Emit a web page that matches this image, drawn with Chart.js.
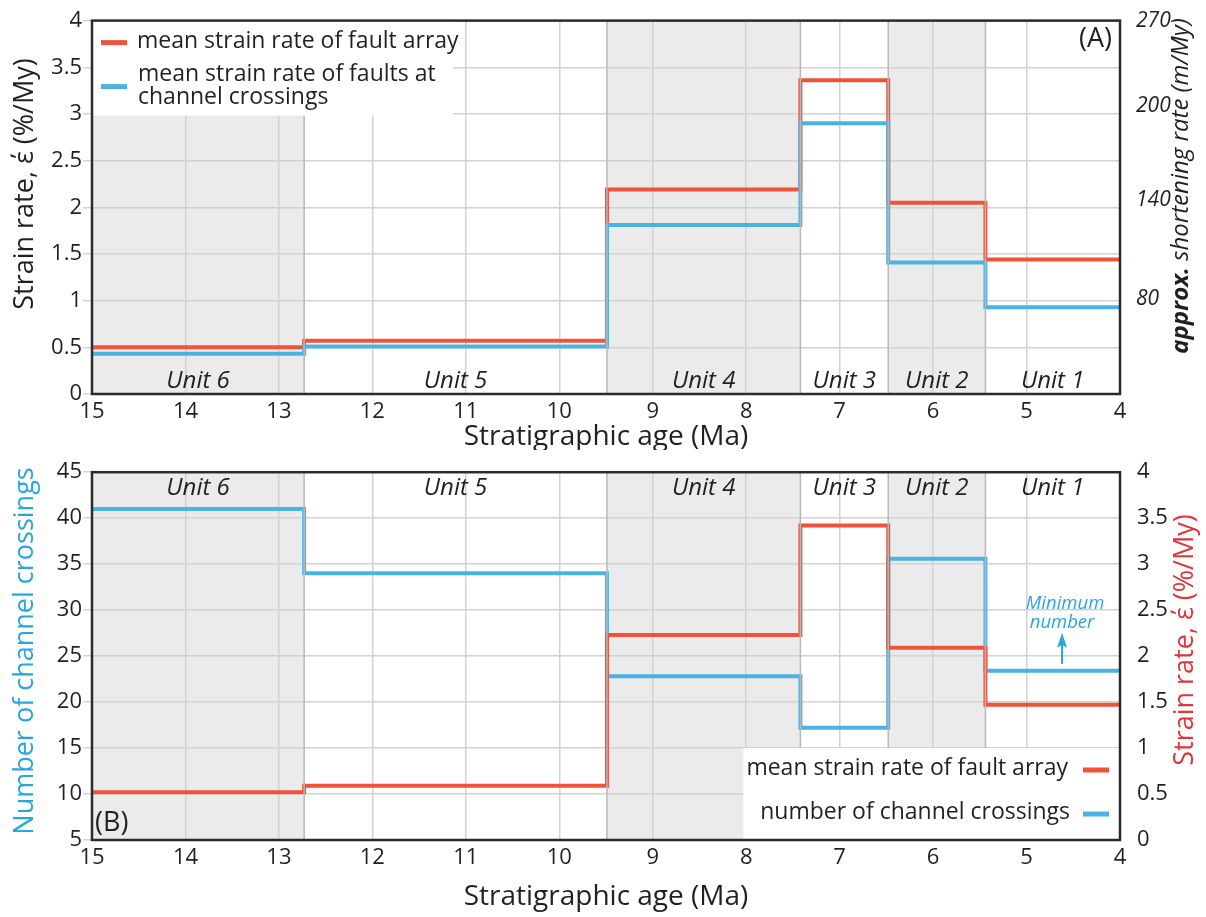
<!DOCTYPE html>
<html>
<head>
<meta charset="utf-8">
<script src="https://cdn.jsdelivr.net/npm/chart.js@4.4.0/dist/chart.umd.min.js"></script>
<style>
  html, body { margin: 0; padding: 0; background: #fff; }
  #wrap { position: relative; width: 1206px; height: 917px; }
  canvas { position: absolute; left: 0; }
  #chartA { top: 0; }
  #chartB { top: 450px; }
</style>
</head>
<body>
<div id="wrap">
  <canvas id="chartA" width="1206" height="450"></canvas>
  <canvas id="chartB" width="1206" height="467"></canvas>
</div>
<script>
// ----------------- DATA -----------------
const unitNames = ["Unit 6", "Unit 5", "Unit 4", "Unit 3", "Unit 2", "Unit 1"];
const unitEdges = [15, 12.73, 9.49, 7.42, 6.48, 5.44, 4];   // Ma, oldest -> youngest
const shadedUnits = [0, 2, 4];
const ageTicks = [15, 14, 13, 12, 11, 10, 9, 8, 7, 6, 5, 4];

// panel A
const strainArrayA = [0.5, 0.57, 2.19, 3.36, 2.05, 1.44];
const strainCrossA = [0.43, 0.51, 1.81, 2.9, 1.41, 0.93];
const shorteningLabels = ["270", "200", "140", "80"];
const shorteningAt = [4, 3.08, 2.08, 1.02];   // strain-rate level where each label sits

// panel B
const crossingsB = [41, 34, 22.8, 17.2, 35.6, 23.4];
const strainArrayB = [0.52, 0.59, 2.23, 3.42, 2.09, 1.47];

// ----------------- STYLE -----------------
const FONT = '"Open Sans", "Noto Sans", sans-serif';
const INK = "#231f20";
const GRID = "#d2d2d2";
const SHADE = "#ebebeb";
const RED = "#f0533a";
const BLUE = "#4ab3e4";
const RED_TITLE = "#e0353a";
const BLUE_TITLE = "#2aa6df";

function steps(values) {
  const pts = [];
  values.forEach((v, i) => {
    pts.push({ x: unitEdges[i], y: v });
    pts.push({ x: unitEdges[i + 1], y: v });
  });
  return pts;
}

function lineSet(label, values, color, axis) {
  return {
    label, data: steps(values), yAxisID: axis,
    borderColor: color, borderWidth: 4, pointRadius: 0,
    borderJoinStyle: "miter", borderCapStyle: "butt", tension: 0
  };
}

const plainNum = v => String(v);

function xAxis(height) {
  return {
    type: "linear", min: 4, max: 15, reverse: true,
    afterFit: s => { s.height = height; },
    afterBuildTicks: s => { s.ticks = ageTicks.map(v => ({ value: v })); },
    grid: { color: GRID, lineWidth: 1.5, drawTicks: false },
    border: { display: false },
    ticks: { padding: 5, color: INK, font: { family: FONT, size: 22 }, maxRotation: 0, autoSkip: false, callback: plainNum }
  };
}

function leftAxis(min, max, step) {
  return {
    type: "linear", position: "left", min, max,
    afterFit: s => { s.width = 92; },
    grid: { color: GRID, lineWidth: 1.5, tickLength: 9 },
    border: { display: false },
    ticks: { stepSize: step, padding: 1, color: INK, font: { family: FONT, size: 22 }, autoSkip: false, callback: plainNum }
  };
}

function text(ctx, str, x, y, font, color, align) {
  ctx.font = font;
  ctx.fillStyle = color || INK;
  ctx.textAlign = align || "center";
  ctx.textBaseline = "middle";
  ctx.fillText(str, x, y);
}

function vText(ctx, parts, cx, cy) {
  // parts: [{str, font, color}], drawn rotated -90deg, centred on (cx, cy)
  ctx.save();
  ctx.translate(cx, cy);
  ctx.rotate(-Math.PI / 2);
  ctx.textBaseline = "middle";
  ctx.textAlign = "left";
  let total = 0;
  parts.forEach(p => { ctx.font = p.font; total += ctx.measureText(p.str).width; });
  let x = -total / 2;
  parts.forEach(p => {
    ctx.font = p.font;
    ctx.fillStyle = p.color || INK;
    ctx.fillText(p.str, x, 0);
    x += ctx.measureText(p.str).width;
  });
  ctx.restore();
}

function swatch(ctx, x1, x2, y, color) {
  ctx.save();
  ctx.strokeStyle = color;
  ctx.lineWidth = 5;
  ctx.beginPath();
  ctx.moveTo(x1, y);
  ctx.lineTo(x2, y);
  ctx.stroke();
  ctx.restore();
}

// shading of alternate units, under the grid
const shadePlugin = {
  id: "shade",
  beforeDraw(chart) {
    const { ctx, chartArea: a, scales: { x } } = chart;
    ctx.save();
    shadedUnits.forEach(i => {
      const x1 = x.getPixelForValue(unitEdges[i]);
      const x2 = x.getPixelForValue(unitEdges[i + 1]);
      ctx.fillStyle = SHADE;
      ctx.fillRect(x1, a.top, x2 - x1, a.bottom - a.top);
    });
    ctx.restore();
  },
  afterDatasetsDraw(chart) {
    const { ctx, chartArea: a, scales: { x } } = chart;
    ctx.save();
    ctx.strokeStyle = "#b8b8b8";
    ctx.lineWidth = 1.5;
    shadedUnits.forEach(i => {
      [unitEdges[i], unitEdges[i + 1]].forEach(e => {
        if (e === 15 || e === 4) return;
        const px = x.getPixelForValue(e);
        ctx.beginPath();
        ctx.moveTo(px, a.top);
        ctx.lineTo(px, a.bottom);
        ctx.stroke();
      });
    });
    ctx.restore();
  }
};

function unitLabels(chart, y) {
  const { ctx, scales: { x } } = chart;
  unitNames.forEach((name, i) => {
    const mid = (unitEdges[i] + unitEdges[i + 1]) / 2;
    text(ctx, name, x.getPixelForValue(mid), y, "italic 24px " + FONT, INK);
  });
}

function frame(chart) {
  const { ctx, chartArea: a } = chart;
  ctx.save();
  ctx.strokeStyle = "#2b2b2b";
  ctx.lineWidth = 2.5;
  ctx.strokeRect(a.left, a.top, a.right - a.left, a.bottom - a.top);
  ctx.restore();
}

// ----------------- PANEL A -----------------
const decorA = {
  id: "decorA",
  afterDraw(chart) {
    const { ctx, chartArea: a } = chart;
    unitLabels(chart, a.bottom - 13);

    // legend box
    ctx.fillStyle = "#fff";
    ctx.fillRect(a.left, a.top, 361, 95);
    swatch(ctx, a.left + 9, a.left + 35, a.top + 22, RED);
    text(ctx, "mean strain rate of fault array", a.left + 45, a.top + 21, "23px " + FONT, INK, "left");
    swatch(ctx, a.left + 9, a.left + 35, a.top + 66, BLUE);
    text(ctx, "mean strain rate of faults at", a.left + 46, a.top + 54, "23px " + FONT, INK, "left");
    text(ctx, "channel crossings", a.left + 46, a.top + 77, "23px " + FONT, INK, "left");

    text(ctx, "(A)", a.right - 8, a.top + 19, "27px " + FONT, INK, "right");
    frame(chart);

    // axis titles
    text(ctx, "Stratigraphic age (Ma)", (a.left + a.right) / 2, 437, "28px " + FONT, INK);
    vText(ctx, [{ str: "Strain rate, έ (%/My)", font: "27px " + FONT }], 25, 184);
    vText(ctx, [
      { str: "approx.", font: "italic bold 24px " + FONT },
      { str: " shortening rate (m/My)", font: "italic 24px " + FONT }
    ], 1181, 186);
  }
};

new Chart(document.getElementById("chartA"), {
  type: "line",
  data: {
    datasets: [
      lineSet("mean strain rate of faults at channel crossings", strainCrossA, BLUE, "y"),
      lineSet("mean strain rate of fault array", strainArrayA, RED, "y")
    ]
  },
  options: {
    responsive: false, animation: false,
    layout: { padding: { top: 14, left: 0, right: 0, bottom: 0 } },
    plugins: { legend: { display: false }, tooltip: { enabled: false } },
    scales: {
      x: xAxis(56),
      y: leftAxis(0, 4, 0.5),
      y2: {
        type: "linear", position: "right", min: 0, max: 4,
        afterFit: s => { s.width = 86; },
        afterBuildTicks: s => { s.ticks = shorteningAt.map(v => ({ value: v })); },
        grid: { display: false }, border: { display: false },
        ticks: {
          padding: 8, color: INK, autoSkip: false,
          font: { family: FONT, size: 21, style: "italic" },
          callback: (v, i) => shorteningLabels[i]
        }
      }
    }
  },
  plugins: [shadePlugin, decorA]
});

// ----------------- PANEL B -----------------
const decorB = {
  id: "decorB",
  afterDraw(chart) {
    const { ctx, chartArea: a, scales: { x, y } } = chart;
    unitLabels(chart, a.top + 16);

    // legend box
    const boxLeft = x.getPixelForValue(8.03);
    const boxTop = y.getPixelForValue(15);
    ctx.fillStyle = "#fff";
    ctx.fillRect(boxLeft, boxTop, a.right - boxLeft, a.bottom - boxTop);
    text(ctx, "mean strain rate of fault array", a.right - 52, a.bottom - 72, "23px " + FONT, INK, "right");
    swatch(ctx, a.right - 37, a.right - 11, a.bottom - 70, RED);
    text(ctx, "number of channel crossings", a.right - 50, a.bottom - 28, "23px " + FONT, INK, "right");
    swatch(ctx, a.right - 37, a.right - 11, a.bottom - 26, BLUE);

    text(ctx, "(B)", a.left + 3, a.bottom - 17, "27px " + FONT, INK, "left");

    // minimum number note
    const nx = x.getPixelForValue(4.62);
    const ny = y.getPixelForValue(crossingsB[5]);
    text(ctx, "Minimum", nx + 3, ny - 67, "italic 18.5px " + FONT, BLUE_TITLE);
    text(ctx, "number", nx, ny - 48, "italic 18.5px " + FONT, BLUE_TITLE);
    ctx.save();
    ctx.strokeStyle = BLUE_TITLE;
    ctx.fillStyle = BLUE_TITLE;
    ctx.lineWidth = 2;
    ctx.beginPath();
    ctx.moveTo(nx, ny - 7);
    ctx.lineTo(nx, ny - 28);
    ctx.stroke();
    ctx.beginPath();
    ctx.moveTo(nx, ny - 38);
    ctx.lineTo(nx - 5, ny - 23);
    ctx.lineTo(nx, ny - 26);
    ctx.lineTo(nx + 5, ny - 23);
    ctx.closePath();
    ctx.fill();
    ctx.restore();

    frame(chart);

    // axis titles
    text(ctx, "Stratigraphic age (Ma)", (a.left + a.right) / 2, 447, "28px " + FONT, INK);
    vText(ctx, [{ str: "Number of channel crossings", font: "27px " + FONT, color: BLUE_TITLE }], 25, 201);
    vText(ctx, [{ str: "Strain rate, έ (%/My)", font: "27px " + FONT, color: RED_TITLE }], 1185, 190);
  }
};

new Chart(document.getElementById("chartB"), {
  type: "line",
  data: {
    datasets: [
      lineSet("mean strain rate of fault array", strainArrayB, RED, "y2"),
      lineSet("number of channel crossings", crossingsB, BLUE, "y")
    ]
  },
  options: {
    responsive: false, animation: false,
    layout: { padding: { top: 21, left: 0, right: 0, bottom: 0 } },
    plugins: { legend: { display: false }, tooltip: { enabled: false } },
    scales: {
      x: xAxis(77),
      y: leftAxis(5, 45, 5),
      y2: {
        type: "linear", position: "right", min: 0, max: 4,
        afterFit: s => { s.width = 86; },
        grid: { display: false }, border: { display: false },
        ticks: { stepSize: 0.5, padding: 9, color: INK, autoSkip: false, font: { family: FONT, size: 22 }, callback: plainNum }
      }
    }
  },
  plugins: [shadePlugin, decorB]
});
</script>
</body>
</html>
